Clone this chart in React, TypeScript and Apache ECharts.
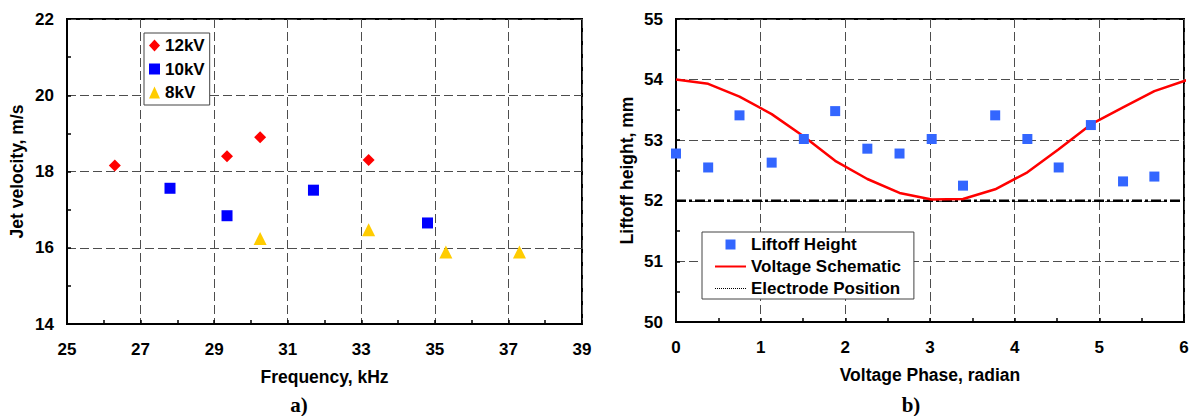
import React, { useEffect, useRef } from "react";
import * as echarts from "echarts";

// Chart a) Jet velocity vs frequency
const freq12 = [26.3, 29.35, 30.25, 33.2];
const vel12 = [18.16, 18.4, 18.9, 18.3];
const freq10 = [27.8, 29.35, 31.7, 34.8];
const vel10 = [17.56, 16.84, 17.51, 16.65];
const freq8 = [30.25, 33.2, 35.3, 37.3];
const vel8 = [16.24, 16.47, 15.89, 15.89];

// Chart b) Liftoff height vs voltage phase
const phase = [0, 0.38, 0.75, 1.13, 1.51, 1.88, 2.26, 2.64, 3.02, 3.39, 3.77, 4.15, 4.52, 4.9, 5.28, 5.65];
const liftoff = [52.78, 52.55, 53.41, 52.63, 53.02, 53.48, 52.86, 52.78, 53.02, 52.25, 53.41, 53.02, 52.55, 53.25, 52.32, 52.4];
const voltagePhase = [0, 0.38, 0.75, 1.13, 1.51, 1.88, 2.26, 2.64, 3.02, 3.39, 3.77, 4.15, 4.52, 4.9, 5.28, 5.65, 6.03];
const voltage = [54.0, 53.93, 53.72, 53.43, 53.06, 52.66, 52.36, 52.13, 52.02, 52.03, 52.19, 52.47, 52.85, 53.26, 53.54, 53.81, 53.99];
const electrodePhase = [0, 6];
const electrodeHeight = [52, 52];

const zip = (xs: number[], ys: number[]) => xs.map((x, i) => [x, ys[i]]);

const FONT = "'Liberation Sans', Arial, sans-serif";
const SERIF = "'Liberation Serif', 'Times New Roman', serif";
const labelStyle = { color: "#000", fontSize: 17, fontWeight: "bold" as const, fontFamily: FONT };
const nameStyle = { color: "#000", fontSize: 17.5, fontWeight: "bold" as const, fontFamily: FONT };
const legendText = { color: "#000", fontSize: 17, fontWeight: "bold" as const, fontFamily: FONT, lineHeight: 16 };
const gridLine = { show: true, lineStyle: { color: "#4d4d4d", width: 1, type: [9, 4] as any } };
const squareIcon = "path://M0,0L10,0L10,10L0,10Z";
const hiddenSymbol = { opacity: 0, color: "rgba(0,0,0,0)", borderWidth: 0 };

function axisCommon(min: number, max: number, interval: number, isX: boolean, gridIndex: number, name: string, nameGap: number) {
  return {
    type: "value",
    gridIndex,
    min,
    max,
    interval,
    name,
    nameLocation: "middle",
    nameGap,
    nameTextStyle: { ...nameStyle },
    axisLine: { show: true, onZero: false, lineStyle: { color: "#000", width: 2 } },
    axisTick: { show: true, inside: true, length: 4, lineStyle: { color: "#000", width: 1.5 } },
    minorTick: { show: true, splitNumber: 2, length: 4, lineStyle: { color: "#000", width: 1.5 } },
    axisLabel: { ...labelStyle, margin: isX ? 17 : 13 },
    splitLine: gridLine,
    minorSplitLine: { show: false },
  };
}

export default function App() {
  const ref = useRef<HTMLDivElement>(null);
  useEffect(() => {
    if (!ref.current) return;
    const chart = echarts.init(ref.current, undefined, { renderer: "svg" });
    const option: any = {
      animation: false,
      backgroundColor: "#fff",
      grid: [
        { left: 67, top: 19, width: 515, height: 305, show: true, borderColor: "#000", borderWidth: 2, backgroundColor: "transparent" },
        { left: 676, top: 19, width: 508, height: 303, show: true, borderColor: "#000", borderWidth: 2, backgroundColor: "transparent" },
      ],
      xAxis: [
        axisCommon(25, 39, 2, true, 0, "Frequency, kHz", 44),
        axisCommon(0, 6, 1, true, 1, "Voltage Phase, radian", 44),
      ],
      yAxis: [
        axisCommon(14, 22, 2, false, 0, "Jet velocity, m/s", 41),
        axisCommon(50, 55, 1, false, 1, "Liftoff height, mm", 40),
      ],
      legend: [
        {
          left: 144,
          top: 33,
          orient: "vertical",
          itemWidth: 11,
          itemHeight: 12,
          itemGap: 6.5,
          padding: [4, 5, 4, 5],
          borderColor: "#444",
          borderWidth: 1,
          backgroundColor: "#fff",
          textStyle: legendText,
          data: ["12kV", { name: "10kV", icon: squareIcon }, "8kV"],
        },
        {
          left: 702,
          top: 232,
          orient: "vertical",
          itemWidth: 31,
          itemHeight: 10,
          itemGap: 5,
          padding: [4, 13, 2, 12],
          borderColor: "#444",
          borderWidth: 1,
          backgroundColor: "#fff",
          textStyle: legendText,
          data: [
            { name: "Liftoff Height", icon: squareIcon },
            { name: "Voltage Schematic", itemStyle: hiddenSymbol },
            { name: "Electrode Position", itemStyle: hiddenSymbol, lineStyle: { type: "dotted", width: 1, color: "#000" } },
          ],
        },
      ],
      graphic: [
        { type: "text", x: 299, y: 405, style: { text: "a)", fontSize: 21, fontWeight: "bold", fontFamily: SERIF, fill: "#000", align: "center", verticalAlign: "middle" } },
        { type: "text", x: 911, y: 405, style: { text: "b)", fontSize: 21, fontWeight: "bold", fontFamily: SERIF, fill: "#000", align: "center", verticalAlign: "middle" } },
      ],
      series: [
        { name: "12kV", type: "scatter", xAxisIndex: 0, yAxisIndex: 0, symbol: "diamond", symbolSize: 12, itemStyle: { color: "#ff0000", opacity: 1 }, data: zip(freq12, vel12) },
        { name: "10kV", type: "scatter", xAxisIndex: 0, yAxisIndex: 0, symbol: "rect", symbolSize: 11, itemStyle: { color: "#0000ff", opacity: 1 }, data: zip(freq10, vel10) },
        { name: "8kV", type: "scatter", xAxisIndex: 0, yAxisIndex: 0, symbol: "triangle", symbolSize: 13, itemStyle: { color: "#ffcc00", opacity: 1 }, data: zip(freq8, vel8) },
        {
          name: "Electrode Position", type: "line", xAxisIndex: 1, yAxisIndex: 1, symbol: "none", z: 3,
          lineStyle: { color: "#000", width: 2.5, type: [10, 3, 3, 3] }, itemStyle: { color: "#000" },
          data: zip(electrodePhase, electrodeHeight),
        },
        {
          name: "Voltage Schematic", type: "line", xAxisIndex: 1, yAxisIndex: 1, symbol: "none", z: 4, clip: true,
          lineStyle: { color: "#ff0000", width: 2.5 }, itemStyle: { color: "#ff0000" },
          data: zip(voltagePhase, voltage),
        },
        { name: "Liftoff Height", type: "scatter", xAxisIndex: 1, yAxisIndex: 1, symbol: "rect", symbolSize: 10, z: 5, itemStyle: { color: "#3366ff", opacity: 1 }, data: zip(phase, liftoff) },
      ],
    };
    chart.setOption(option);
    return () => chart.dispose();
  }, []);
  return <div ref={ref} style={{ position: "absolute", left: 0, top: 0, width: 1193, height: 416 }} />;
}
